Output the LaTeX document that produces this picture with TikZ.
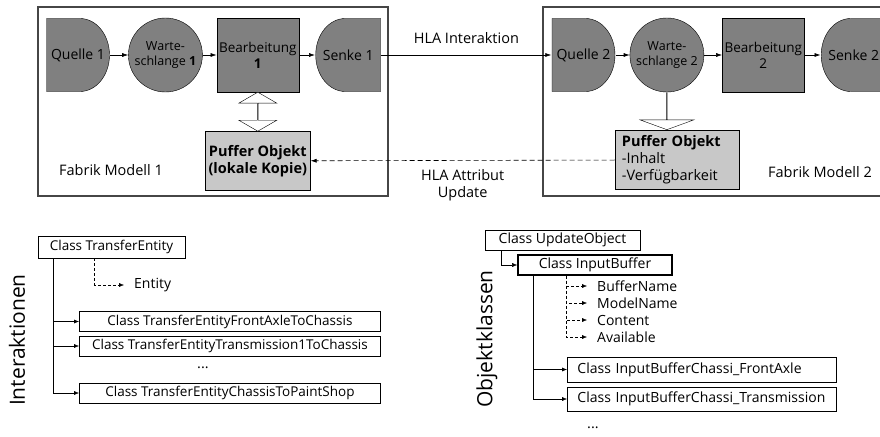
\documentclass[tikz,border=0pt]{standalone}
\usepackage{fontspec}
\setmainfont{Open Sans}
\usetikzlibrary{shapes.arrows, arrows.meta, positioning, calc}
\definecolor{stationgray}{RGB}{128,128,128}
\definecolor{puffergray}{RGB}{200,200,200}
\definecolor{framegray}{RGB}{70,70,70}

\begin{document}
\begin{tikzpicture}[
    x=1pt, y=-1pt,
    node distance=15pt,
    station/.style={draw, fill=stationgray, minimum height=74pt, inner sep=1pt, align=center, font=\fontsize{14}{16}\selectfont},
    quelle/.style={station, draw=none, fill=none, minimum width=64pt, path picture={
        \filldraw[fill=stationgray] ([shift={(0.5,0.5)}]path picture bounding box.north west)
          -- ([xshift=-30pt, yshift=-0.5pt]path picture bounding box.north east)
          arc[start angle=-90, end angle=90, x radius=29.5, y radius=36.5]
          -- ([shift={(0.5,-0.5)}]path picture bounding box.south west) -- cycle;}},
    senke/.style={station, draw=none, fill=none, minimum width=66pt, path picture={
        \filldraw[fill=stationgray] ([shift={(-0.5,0.5)}]path picture bounding box.north east)
          -- ([xshift=30pt, yshift=-0.5pt]path picture bounding box.north west)
          arc[start angle=-90, end angle=-270, x radius=29.5, y radius=36.5]
          -- ([shift={(-0.5,-0.5)}]path picture bounding box.south east) -- cycle;}},
    warte/.style={station, circle, minimum size=74pt, inner sep=0pt, font=\fontsize{12.5}{15}\selectfont},
    bearb/.style={station, rectangle, minimum width=82pt, font=\fontsize{13.5}{16}\selectfont},
    puffer/.style={draw, fill=puffergray, minimum height=59pt, font=\fontsize{14.5}{17}\selectfont},
    frame/.style={draw=framegray, line width=1.4pt},
    caption/.style={font=\fontsize{14.5}{17}\selectfont},
    flow/.style={-{Latex[length=6pt,width=4pt]}, semithick},
    hla/.style={flow, dash pattern=on 5pt off 3pt},
    xchg/.style={double arrow, draw, fill=white, rotate=90, minimum height=39pt, minimum width=38pt, double arrow head extend=8pt, double arrow tip angle=120, inner sep=0pt},
    push/.style={single arrow, draw, fill=white, rotate=-90, minimum height=37pt, minimum width=54pt, single arrow head extend=16pt, single arrow tip angle=140, inner sep=0pt},
    classbox/.style={draw, line width=0.9pt, minimum height=20pt, inner sep=0pt, font=\fontsize{13.5}{15}\selectfont},
    objbox/.style={classbox, font=\fontsize{14}{16}\selectfont},
    field/.style={caption, anchor=west, inner xsep=10pt, inner ysep=1pt, font=\fontsize{14}{16}\selectfont},
    tree/.style={-{Latex[length=5pt,width=4pt]}},
    attr/.style={tree, dash pattern=on 3pt off 2pt},
    side/.style={rotate=90, font=\fontsize{21}{24}\selectfont}
]
\useasboundingbox (0,0) rectangle (880,436);
\clip (0,0) rectangle (880,436);

% Fabrik Modell 1
\draw[frame] (38,7) rectangle (388,196);
\node[quelle] (quelle1) at (78,55) {Quelle 1};
\node[warte, right=18pt of quelle1] (warte1) {Warte-\\schlange \textbf{1}};
\node[bearb, right=14pt of warte1] (bearb1) {Bearbeitung\\\textbf{1}};
\node[senke, right=16pt of bearb1] (senke1) {Senke 1};
\node[puffer, minimum width=105pt, below=39pt of bearb1, font=\fontsize{14.5}{17}\selectfont\bfseries, align=center] (puffer1) {Puffer Objekt\\(lokale Kopie)};
\node[caption] (modell1) at (111,170) {Fabrik Modell 1};

\draw[flow] (quelle1) -- (warte1);
\draw[flow] (warte1) -- (bearb1);
\draw[flow] (bearb1) -- (senke1);
\node[xchg] (xchg1) at ($(bearb1.south)!0.5!(puffer1.north)$) {};

% Fabrik Modell 2
\draw[frame] (543,7) rectangle (895,196);
\node[quelle] (quelle2) at (583.5,55) {Quelle 2};
\node[warte, right=14pt of quelle2] (warte2) {Warte-\\schlange 2};
\node[bearb, right=18pt of warte2] (bearb2) {Bearbeitung\\2};
\node[senke, right=16pt of bearb2] (senke2) {Senke 2};
\node[push] (push2) at ($(warte2.south)!0.5!(warte2.south |- 0,130)$) {};
\node[puffer, minimum width=124pt, text width=110pt, inner xsep=7pt, align=left, below=38pt of warte2, xshift=10pt] (puffer2) {\textbf{Puffer Objekt}\\-Inhalt\\-Verfügbarkeit};
\node[caption] (modell2) at (820,172) {Fabrik Modell 2};

\draw[flow] (quelle2) -- (warte2);
\draw[flow] (warte2) -- (bearb2);
\draw[flow] (bearb2) -- (senke2);

% HLA
\draw[flow] (senke1) -- node[caption, above=8pt] (interaktion) {HLA Interaktion} (quelle2);
\draw[hla] (puffer2) -- node[caption, below=5pt, align=center] (attribut) {HLA Attribut\\Update} (puffer1);

% Interaktionen
\node[side] (interaktionen) at (17,340) {Interaktionen};
\node[classbox, minimum width=147pt, minimum height=22pt] (transfer) at (111.5,247) {Class TransferEntity};
\node[field] (entity) at (124,285) {Entity};
\node[classbox, minimum width=301pt, anchor=west] (frontaxle) at (79,321.5) {Class TransferEntityFrontAxleToChassis};
\node[classbox, minimum width=301pt, anchor=west] (transmission) at (79,346) {Class TransferEntityTransmission1ToChassis};
\node[caption] (dots1) at (203,368) {...};
\node[classbox, minimum width=301pt, anchor=west] (paintshop) at (79,393) {Class TransferEntityChassisToPaintShop};

\draw[attr] ([xshift=57pt]transfer.south west) |- (entity.west);
\draw[tree] ([xshift=16pt]transfer.south west) |- (frontaxle.west);
\draw[tree] ([xshift=16pt]transfer.south west) |- (transmission.west);
\draw[tree] ([xshift=16pt]transfer.south west) |- (paintshop.west);

% Objektklassen
\node[side] (objektklassen) at (487,339) {Objektklassen};
\node[objbox, minimum width=155pt] (update) at (562.5,240) {Class UpdateObject};
\node[objbox, minimum width=154pt, line width=1.6pt] (inputbuffer) at (595,265) {Class InputBuffer};
\node[field] (buffername) at (587,286) {BufferName};
\node[field] (modelname) at (587,303) {ModelName};
\node[field] (content) at (587,320) {Content};
\node[field] (available) at (587,337) {Available};
\node[objbox, anchor=west, minimum height=25pt, inner xsep=10pt, text width=249pt, align=left] (frontaxlebuf) at (567,369.5) {Class InputBufferChassi\_FrontAxle};
\node[objbox, anchor=west, minimum height=24pt, inner xsep=10pt, text width=249pt, align=left] (transmissionbuf) at (567,399) {Class InputBufferChassi\_Transmission};
\node[caption] (dots2) at (593,428) {...};

\draw[tree] ([xshift=17pt]update.south west) |- (inputbuffer.west);
\draw[attr] ([xshift=49pt]inputbuffer.south west) |- (buffername.west);
\draw[attr] ([xshift=49pt]inputbuffer.south west) |- (modelname.west);
\draw[attr] ([xshift=49pt]inputbuffer.south west) |- (content.west);
\draw[attr] ([xshift=49pt]inputbuffer.south west) |- (available.west);
\draw[tree] ([xshift=16pt]inputbuffer.south west) |- (frontaxlebuf.west);
\draw[tree] ([xshift=16pt]inputbuffer.south west) |- (transmissionbuf.west);

\end{tikzpicture}
\end{document}
